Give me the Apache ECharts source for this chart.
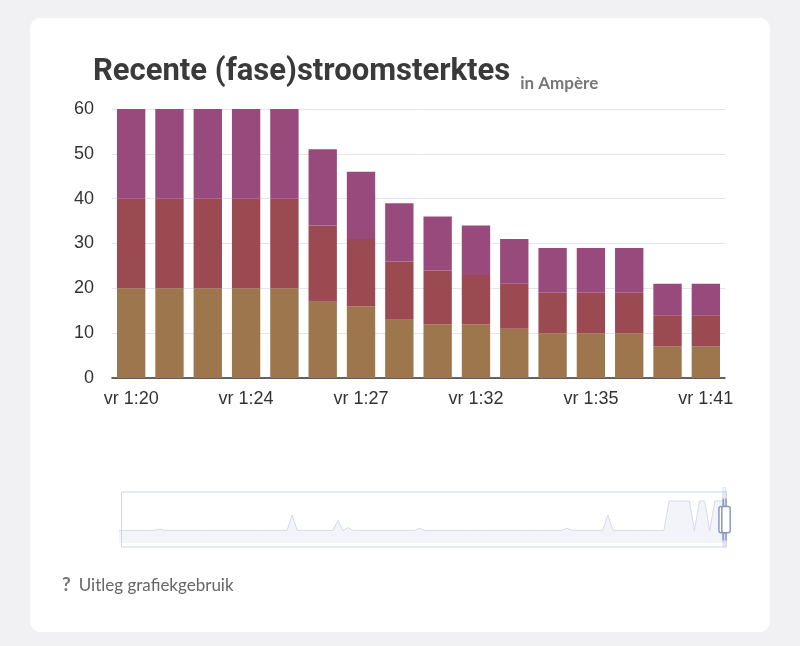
<!DOCTYPE html>
<html><head><meta charset="utf-8">
<script src="https://cdn.jsdelivr.net/npm/echarts@6/dist/echarts.min.js"></script>
<style>
html,body{margin:0;padding:0;background:#f1f1f4;width:800px;height:646px;overflow:hidden;font-family:Lato,"Open Sans",sans-serif}
#card{position:absolute;left:30px;top:18px;width:740px;height:614px;background:#fff;border-radius:10px}
#chart{position:absolute;left:0;top:0;width:800px;height:646px}
#help{position:absolute;left:62px;top:572px;font-size:17px;color:#666;font-family:Lato,sans-serif}
#help b{color:#777;font-size:19px;margin-right:8px}
</style></head><body>
<div id="card"></div>
<div id="chart"></div>
<div id="help"><b>?</b>Uitleg grafiekgebruik</div>
<script>
const categories = ['vr 1:20','vr 1:21','vr 1:22','vr 1:24','vr 1:25','vr 1:26','vr 1:27','vr 1:29','vr 1:30','vr 1:32','vr 1:33','vr 1:34','vr 1:35','vr 1:37','vr 1:39','vr 1:41'];
const phase1 = [20,20,20,20,20,17,16,13,12,12,11,10,10,10,7,7];
const phase2 = [20,20,20,20,20,17,15,13,12,11,10,9,9,9,7,7];
const phase3 = [20,20,20,20,20,17,15,13,12,11,10,10,10,10,7,7];
const yTicks = [0,10,20,30,40,50,60];
const overview = [
18,18,18,18,18,18,18,18,20,18,18,18,18,18,18,18,18,18,18,18,
18,18,18,18,18,18,18,18,18,18,18,18,18,18,40,18,18,18,18,18,
18,18,18,32,18,22,18,18,18,18,18,18,18,18,18,18,18,18,18,21,
18,18,18,18,18,18,18,18,18,18,18,18,18,18,18,18,18,18,18,18,
18,18,18,18,18,18,18,18,21,18,18,18,18,18,18,18,40,18,18,18,
18,18,18,18,18,18,18,18,60,60,60,60,60,18,60,60,18,60,60,60];
const ovCats = overview.map((v,i)=>i);

const chart = echarts.init(document.getElementById('chart'));
const txt = '#333';
chart.setOption({
  backgroundColor:'transparent',
  animation:false,
  title:{left:88,top:52,text:'{a|Recente (fase)stroomsterktes}  {b|in Ampère}',
    textStyle:{rich:{a:{fontSize:31,fontWeight:'bold',color:'#3a3a3a',fontFamily:'Roboto, Liberation Sans, sans-serif'},
      b:{fontSize:17,color:'#777',fontFamily:'Lato, sans-serif',verticalAlign:'bottom',padding:[0,0,-4,0]}}}},
  grid:[{left:112,right:75,top:109,bottom:268},{left:119,right:75,top:487,bottom:103}],
  xAxis:[
    {type:'category',data:categories,gridIndex:0,
     axisLine:{lineStyle:{color:'#333',width:1.5}},
     axisTick:{interval:2,length:7,lineStyle:{color:'#333',width:1.5}},
     axisLabel:{interval:2,color:txt,fontSize:18,margin:12,fontFamily:'Liberation Sans, sans-serif'}},
    {type:'category',data:ovCats,gridIndex:1,show:false,boundaryGap:false},
    {type:'category',data:ovCats,gridIndex:1,show:false,boundaryGap:false}
  ],
  yAxis:[
    {type:'value',min:0,max:60,interval:10,gridIndex:0,
     axisLabel:{color:txt,fontSize:18,margin:18,fontFamily:'Liberation Sans, sans-serif',
       formatter:v=>yTicks.includes(v)?String(v):''},
     splitLine:{lineStyle:{color:'#e4e4ec'}},axisLine:{show:false},axisTick:{show:false}},
    {type:'value',min:0,max:80,gridIndex:1,show:false}
  ],
  dataZoom:[{type:'slider',xAxisIndex:2,filterMode:'none',start:99.2,end:100,
    left:119,right:75,top:487,height:56,showDataShadow:false,showDetail:false,
    borderColor:'#d2d6e6',backgroundColor:'rgba(0,0,0,0)',
    fillerColor:'rgba(140,160,210,0.25)',
    handleStyle:{color:'#fff',borderColor:'#8b9ac0',borderWidth:1.5},
    handleSize:'75%',
    moveHandleSize:5,
    moveHandleStyle:{color:'#c8d0e6'},
    dataBackground:{lineStyle:{opacity:0},areaStyle:{opacity:0}}}],
  series:[
    {type:'bar',stack:'a',data:phase1,itemStyle:{color:'#9e764d'},barCategoryGap:'26%'},
    {type:'bar',stack:'a',data:phase2,itemStyle:{color:'#9c4a52'}},
    {type:'bar',stack:'a',data:phase3,itemStyle:{color:'#984a7c'}},
    {type:'line',xAxisIndex:1,yAxisIndex:1,data:overview,symbol:'none',
     lineStyle:{color:'#d6dae8',width:1},areaStyle:{color:'#eef0f8'},silent:true}
  ]
});
</script></body></html>
